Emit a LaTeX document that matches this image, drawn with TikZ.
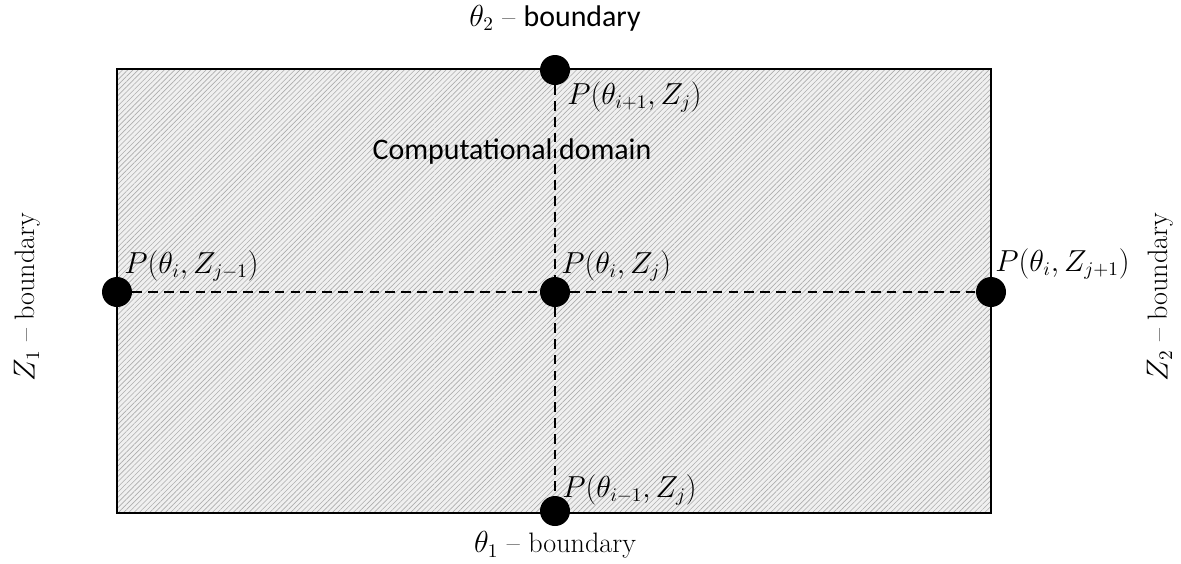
\documentclass[tikz,border=0pt]{standalone}
\usepackage{amsmath,amssymb}
\usepackage{fontspec}
\newfontfamily\calibrifont{Carlito}
\usetikzlibrary{patterns.meta}

\tikzset{
  grid point/.style={circle, fill=black, inner sep=0pt, minimum size=6mm},
  point label/.style={anchor=west, inner sep=0pt, font=\fontsize{16}{19}\selectfont},
  side label/.style={inner sep=0pt, font=\fontsize{16}{19}\selectfont},
  grid line/.style={line width=1.1pt, dash pattern=on 5.5pt off 3.5pt}
}

\begin{document}
\begin{tikzpicture}[x=0.2mm, y=-0.2mm]
        \useasboundingbox (0,0) rectangle (1181,563);
        % computational domain
        \fill[black!6] (117,69) rectangle (991,513);
        \path[pattern={Lines[angle=45, distance=2.1pt, line width=0.35pt]}, pattern color=black!32]
          (117,69) rectangle (991,513);
        \draw[line width=0.9pt] (117,69) rectangle (991,513);
        \node[font=\calibrifont\fontsize{17}{20}\selectfont, inner sep=0pt] (domain) at (512,152) {Computational domain};
        % grid points
        \node[grid point] (c) at (555,292) {};
        \node[grid point] (n) at (555,70) {};
        \node[grid point] (s) at (555,511) {};
        \node[grid point] (w) at (117,292) {};
        \node[grid point] (e) at (991,292) {};
        \draw[grid line] (w) -- (c) -- (e);
        \draw[grid line] (n) -- (c) -- (s);
        % point labels
        \node[point label] (cl) at (561,266) {$P(\theta_i,Z_j)$};
        \node[point label] (nl) at (567,97) {$P(\theta_{i+1},Z_j)$};
        \node[point label] (sl) at (562,490) {$P(\theta_{i-1},Z_j)$};
        \node[point label] (wl) at (124,266) {$P(\theta_i,Z_{j-1})$};
        \node[point label] (el) at (995,264) {$P(\theta_i,Z_{j+1})$};
        % boundaries
        \node[side label] (top) at (555,18) {$\theta_2$ -- {\calibrifont\fontsize{17}{20}\selectfont boundary}};
        \node[side label] (bottom) at (555,545) {$\theta_1$ -- boundary};
        \node[side label, rotate=90] (left) at (27,297) {$Z_1$ -- boundary};
        \node[side label, rotate=90] (right) at (1160,297) {$Z_2$ -- boundary};
      \end{tikzpicture}
\end{document}
